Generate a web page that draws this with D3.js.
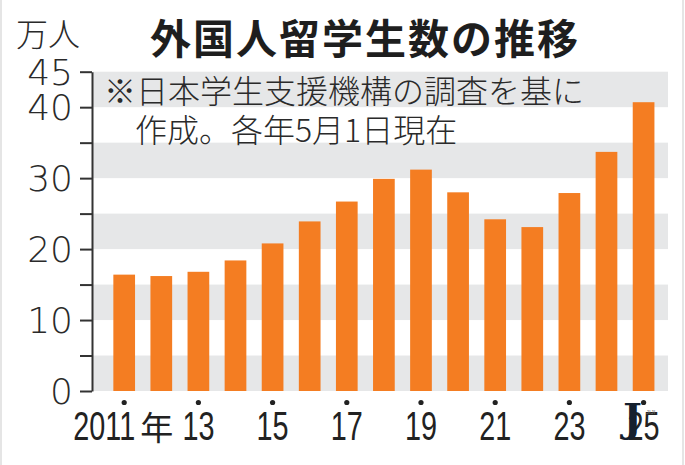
<!DOCTYPE html>
<html>
<head>
<meta charset="utf-8">
<script src="https://cdn.jsdelivr.net/npm/d3@7"></script>
<style>
  html, body { margin: 0; padding: 0; background: #fff; }
  svg { display: block; }
</style>
</head>
<body>
<div id="chart"></div>
<script>
// 外国人留学生数（万人）
const years  = [2011, 2012, 2013, 2014, 2015, 2016, 2017, 2018, 2019, 2020, 2021, 2022, 2023, 2024, 2025];
const values = [16.4, 16.2, 16.8, 18.4, 20.8, 23.9, 26.7, 29.9, 31.2, 28.0, 24.2, 23.1, 27.9, 33.7, 40.7];
const yTicks      = [0, 5, 10, 15, 20, 25, 30, 35, 40, 45];
const yTickLabels = [0, 10, 20, 30, 40, 45];
const labelYears  = [2011, 2013, 2015, 2017, 2019, 2021, 2023, 2025];

const W = 685, H = 465;
const jp = "'Noto Sans CJK JP', 'Noto Sans', sans-serif";

const svg = d3.select("#chart")
  .append("svg")
    .attr("width", W)
    .attr("height", H);

// faint frame edges
svg.append("line").attr("x1", 1).attr("x2", 1).attr("y1", 0).attr("y2", H)
    .attr("stroke", "#dcdcdc").attr("stroke-width", 1.5);
svg.append("line").attr("x1", 683).attr("x2", 683).attr("y1", 0).attr("y2", H)
    .attr("stroke", "#dcdcdc").attr("stroke-width", 1.5);

const x = d3.scaleBand()
    .domain(years)
    .range([93, 668])
    .paddingInner(0.415)
    .paddingOuter(0.457)
    .align(0.6);

const y = d3.scaleLinear()
    .domain([0, 45])
    .range([391, 71.7]);

// alternating bands
const bands = d3.range(0, 45, 10);
svg.selectAll(".band")
  .data(bands)
  .enter().append("rect")
    .attr("class", "band")
    .attr("x", 93)
    .attr("width", 668 - 93)
    .attr("y", d => y(d + 5))
    .attr("height", d => y(d) - y(d + 5))
    .attr("fill", "#e6e7e8");

// bars
svg.selectAll(".bar")
  .data(years)
  .enter().append("rect")
    .attr("class", "bar")
    .attr("x", d => x(d))
    .attr("width", x.bandwidth())
    .attr("y", (d, i) => y(values[i]))
    .attr("height", (d, i) => y(0) - y(values[i]))
    .attr("fill", "#f47d22");

// y axis
const yAxis = svg.append("g")
    .attr("transform", "translate(92,0)")
    .call(d3.axisLeft(y).tickValues(yTicks).tickSize(12).tickSizeOuter(0).tickFormat(""));
yAxis.select(".domain").attr("stroke", "#333").attr("stroke-width", 2);
yAxis.selectAll(".tick line").attr("stroke", "#333").attr("stroke-width", 2);

svg.selectAll(".ylab")
  .data(yTickLabels)
  .enter().append("text")
    .attr("class", "ylab")
    .attr("x", 73)
    .attr("y", d => y(d))
    .attr("dy", "0.36em")
    .attr("text-anchor", "end")
    .attr("font-family", "'DejaVu Sans', sans-serif")
    .attr("font-weight", 300)
    .attr("font-size", 36)
    .attr("fill", "#2a2a2a")
    .text(d => d);

// x dots and labels
svg.selectAll(".dot")
  .data(labelYears)
  .enter().append("circle")
    .attr("cx", d => x(d) + x.bandwidth() / 2)
    .attr("cy", 402.5)
    .attr("r", 2.6)
    .attr("fill", "#222");

const sx = 0.72;
labelYears.forEach((yr, i) => {
  const cx = x(yr) + x.bandwidth() / 2;
  if (i === 0) {
    svg.append("g")
        .attr("transform", `translate(${cx + 11},440) scale(${sx},1)`)
      .append("text")
        .attr("text-anchor", "end")
        .attr("font-family", "'Liberation Sans', Arial, sans-serif")
        .attr("font-size", 40)
        .attr("fill", "#222")
        .text(yr);
    svg.append("text")
        .attr("x", cx + 16)
        .attr("y", 440)
        .attr("font-family", jp)
        .attr("font-size", 33)
        .attr("fill", "#222")
        .text("年");
  } else {
    svg.append("g")
        .attr("transform", `translate(${cx},440) scale(${sx},1)`)
      .append("text")
        .attr("text-anchor", "middle")
        .attr("font-family", "'Liberation Sans', Arial, sans-serif")
        .attr("font-size", 40)
        .attr("fill", "#222")
        .text(String(yr).slice(2));
  }
});

// unit
svg.append("text")
    .attr("x", 16)
    .attr("y", 46)
    .attr("font-family", jp)
    .attr("font-weight", 300)
    .attr("font-size", 32)
    .attr("fill", "#2a2a2a")
    .text("万人");

// title
svg.append("text")
    .attr("x", 150)
    .attr("y", 54)
    .attr("font-family", jp)
    .attr("font-weight", 700)
    .attr("font-size", 41)
    .attr("letter-spacing", 2)
    .attr("fill", "#1e1e1e")
    .text("外国人留学生数の推移");

// note
const notes = ["※日本学生支援機構の調査を基に", "作成。各年5月1日現在"];
svg.selectAll(".note")
  .data(notes)
  .enter().append("text")
    .attr("class", "note")
    .attr("x", (d, i) => i === 0 ? 104 : 135)
    .attr("y", (d, i) => 103 + i * 39)
    .attr("font-family", jp)
    .attr("font-weight", 300)
    .attr("font-size", 32)
    .attr("fill", "#2a2a2a")
    .text(d => d);

// logo
svg.append("text")
    .attr("x", 623)
    .attr("y", 432)
    .attr("font-family", "'DejaVu Serif', serif")
    .attr("font-weight", 700)
    .attr("font-size", 40)
    .attr("fill", "#15202e")
    .text("J");
svg.append("text")
    .attr("x", 646)
    .attr("y", 414)
    .attr("font-family", "'Liberation Sans', sans-serif")
    .attr("font-size", 6)
    .attr("fill", "#777")
    .text("JIJI");
</script>
</body>
</html>
